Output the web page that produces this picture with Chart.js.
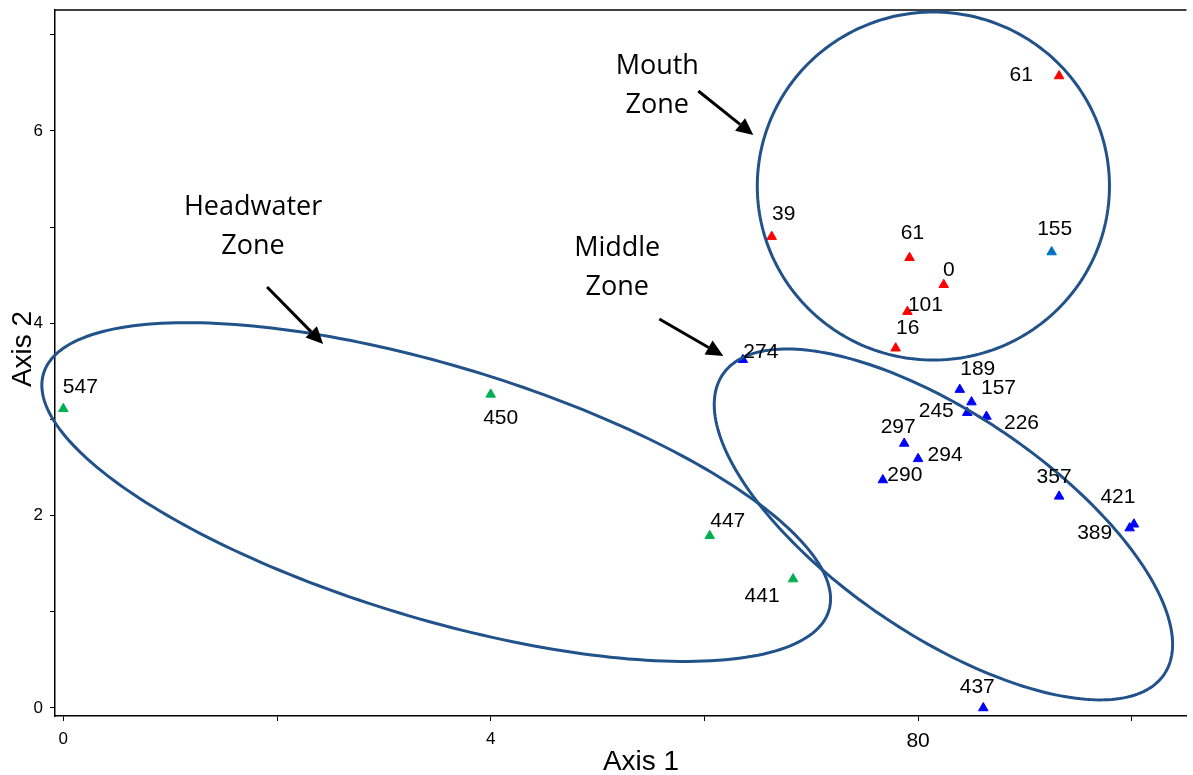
<!DOCTYPE html>
<html>
<head>
  <title>Stream Zone Ordination</title>
  <script src="https://cdn.jsdelivr.net/npm/chart.js"></script>
  <style>
    body { margin: 0; background: #fff; }
    canvas { display: block; }
  </style>
</head>
<body>
  <canvas id="ordChart" width="1193" height="775"></canvas>

  <script>
    // site scores
    const headX = [0.0, 4.0, 6.05, 6.83];
    const headY = [3.11, 3.26, 1.79, 1.34];
    const headLabels = ['547', '450', '447', '441'];

    const midX = [6.36, 8.39, 8.50, 8.46, 8.64, 7.87, 8.00, 7.67, 9.32, 10.02, 9.98, 8.61];
    const midY = [3.62, 3.31, 3.18, 3.07, 3.03, 2.75, 2.59, 2.37, 2.20, 1.91, 1.87, 0.0];
    const midLabels = ['274', '189', '157', '245', '226', '297', '294', '290', '357', '421', '389', '437'];

    const mouthX = [9.32, 6.63, 7.92, 8.24, 7.90, 7.79];
    const mouthY = [6.57, 4.90, 4.68, 4.40, 4.12, 3.74];
    const mouthLabels = ['61', '39', '61', '0', '101', '16'];

    const otherX = [9.25];
    const otherY = [4.74];
    const otherLabels = ['155'];

    const xTickValues = [0, 4, 8];
    const xTickLabels = ['0', '4', '80'];
    const yTickValues = [0, 2, 4, 6];
    const yTickLabels = ['0', '2', '4', '6'];

    // label nudges in px (label centre relative to the marker)
    const headNudge = [[17, -22], [10, 23], [18, -15], [-31, 17]];
    const midNudge = [[18, -8], [18, -21], [27, -14], [-31, -2], [35, 6], [-6, -17],
                      [27, -4], [22, -5], [-5, -20], [-16, -27], [-35, 5], [-6, -21]];
    const mouthNudge = [[-38, -1], [12, -23], [3, -25], [5, -15], [18, -7], [12, -20]];
    const otherNudge = [[3, -23]];

    // zone outlines: centre plus two conjugate semi-axes, in data units
    const zoneShapes = [
      { c: [3.49, 2.245], a: [3.675, -1.232], b: [-0.342, -1.258] },
      { c: [8.237, 1.908], a: [2.065, -1.560], b: [-0.580, -0.945] },
      { c: [8.143, 5.426], a: [1.648, 0], b: [0, -1.809] }
    ];
    const arrows = [
      { from: [1.907, 4.376], to: [2.432, 3.784] },
      { from: [5.943, 6.414], to: [6.458, 5.956] },
      { from: [5.578, 4.044], to: [6.177, 3.659] }
    ];
    const zoneNotes = [
      { lines: ['Headwater', 'Zone'], at: [1.776, 5.125] },
      { lines: ['Mouth', 'Zone'], at: [5.559, 6.590] },
      { lines: ['Middle', 'Zone'], at: [5.184, 4.699] }
    ];

    function pts(xs, ys) {
      return xs.map((x, i) => ({ x: x, y: ys[i] }));
    }

    function group(xs, ys, labels, nudge, color) {
      return {
        data: pts(xs, ys),
        siteLabels: labels,
        nudge: nudge,
        pointStyle: 'triangle',
        pointRadius: 5.5,
        pointHoverRadius: 5.5,
        backgroundColor: color,
        borderColor: color,
        borderWidth: 1,
        clip: false
      };
    }

    const overlay = {
      id: 'overlay',
      afterDatasetsDraw(chart) {
        const c = chart.ctx;
        const xs = chart.scales.x, ys = chart.scales.y;
        const area = chart.chartArea;
        const X = v => xs.getPixelForValue(v);
        const Y = v => ys.getPixelForValue(v);
        c.save();

        // top frame line
        c.strokeStyle = '#000';
        c.lineWidth = 1.5;
        c.beginPath();
        c.moveTo(area.left, area.top);
        c.lineTo(area.right, area.top);
        c.stroke();

        // ellipses
        c.strokeStyle = '#22528a';
        c.lineWidth = 3;
        zoneShapes.forEach(s => {
          c.beginPath();
          for (let k = 0; k <= 240; k++) {
            const t = k / 240 * Math.PI * 2;
            const px = X(s.c[0] + s.a[0] * Math.cos(t) + s.b[0] * Math.sin(t));
            const py = Y(s.c[1] + s.a[1] * Math.cos(t) + s.b[1] * Math.sin(t));
            if (k === 0) c.moveTo(px, py); else c.lineTo(px, py);
          }
          c.closePath();
          c.stroke();
        });

        // arrows
        c.strokeStyle = '#000';
        c.fillStyle = '#000';
        arrows.forEach(a => {
          const x0 = X(a.from[0]), y0 = Y(a.from[1]);
          const x1 = X(a.to[0]), y1 = Y(a.to[1]);
          const ang = Math.atan2(y1 - y0, x1 - x0);
          const hl = 17, hw = 8;
          const bx = x1 - hl * Math.cos(ang), by = y1 - hl * Math.sin(ang);
          c.lineWidth = 3;
          c.beginPath();
          c.moveTo(x0, y0);
          c.lineTo(bx, by);
          c.stroke();
          c.beginPath();
          c.moveTo(x1, y1);
          c.lineTo(bx + hw * Math.sin(ang), by - hw * Math.cos(ang));
          c.lineTo(bx - hw * Math.sin(ang), by + hw * Math.cos(ang));
          c.closePath();
          c.fill();
        });

        // zone captions
        c.fillStyle = '#000';
        c.font = '27px "Open Sans", sans-serif';
        c.textAlign = 'center';
        c.textBaseline = 'alphabetic';
        zoneNotes.forEach(n => {
          n.lines.forEach((line, i) => {
            c.fillText(line, X(n.at[0]), Y(n.at[1]) + i * 39);
          });
        });

        // site labels
        const fs = 21;
        c.font = fs + 'px "Liberation Sans", Arial, sans-serif';
        chart.data.datasets.forEach((ds, di) => {
          const meta = chart.getDatasetMeta(di);
          meta.data.forEach((el, i) => {
            const d = ds.nudge[i];
            c.fillText(ds.siteLabels[i], el.x + d[0], el.y - 1.4 + d[1] + 0.36 * fs);
          });
        });

        // axis titles
        c.font = '28px "Liberation Sans", Arial, sans-serif';
        c.fillText('Axis 1', 641, 770);
        c.translate(31, 349);
        c.rotate(-Math.PI / 2);
        c.fillText('Axis 2', 0, 0);

        c.restore();
      }
    };

    const ctx = document.getElementById('ordChart').getContext('2d');

    const tickFont = (sc) => ({
      family: '"Liberation Sans", Arial, sans-serif',
      size: sc.tick && sc.tick.value === 8 ? 21 : 17
    });

    new Chart(ctx, {
      type: 'scatter',
      data: {
        datasets: [
          group(headX, headY, headLabels, headNudge, '#00b050'),
          group(midX, midY, midLabels, midNudge, '#0000ff'),
          group(mouthX, mouthY, mouthLabels, mouthNudge, '#ff0000'),
          group(otherX, otherY, otherLabels, otherNudge, '#0070c0')
        ]
      },
      options: {
        responsive: false,
        animation: false,
        devicePixelRatio: 1,
        layout: { padding: { top: 10, right: 3, left: 0, bottom: 0 } },
        plugins: {
          legend: { display: false },
          tooltip: { enabled: false }
        },
        scales: {
          x: {
            type: 'linear',
            min: -0.0777,
            max: 10.512,
            afterFit: s => { s.height = 59; s.paddingLeft = 0; s.paddingRight = 0; },
            border: { display: true, color: '#000', width: 1.5 },
            grid: { drawOnChartArea: false, drawTicks: true, tickLength: 5, color: '#000' },
            ticks: {
              stepSize: 2,
              includeBounds: false,
              autoSkip: false,
              maxRotation: 0,
              padding: 8,
              color: '#000',
              font: tickFont,
              callback: v => {
                const k = xTickValues.indexOf(v);
                return k >= 0 ? xTickLabels[k] : '';
              }
            }
          },
          y: {
            type: 'linear',
            min: -0.0832,
            max: 7.256,
            afterFit: s => { s.width = 55; s.paddingTop = 0; s.paddingBottom = 0; },
            border: { display: true, color: '#000', width: 1.5 },
            grid: { drawOnChartArea: false, drawTicks: true, tickLength: 5, color: '#000' },
            ticks: {
              stepSize: 1,
              includeBounds: false,
              autoSkip: false,
              padding: 7,
              color: '#000',
              font: tickFont,
              callback: v => {
                const k = yTickValues.indexOf(v);
                return k >= 0 ? yTickLabels[k] : '';
              }
            }
          }
        }
      },
      plugins: [overlay]
    });
  </script>
</body>
</html>
